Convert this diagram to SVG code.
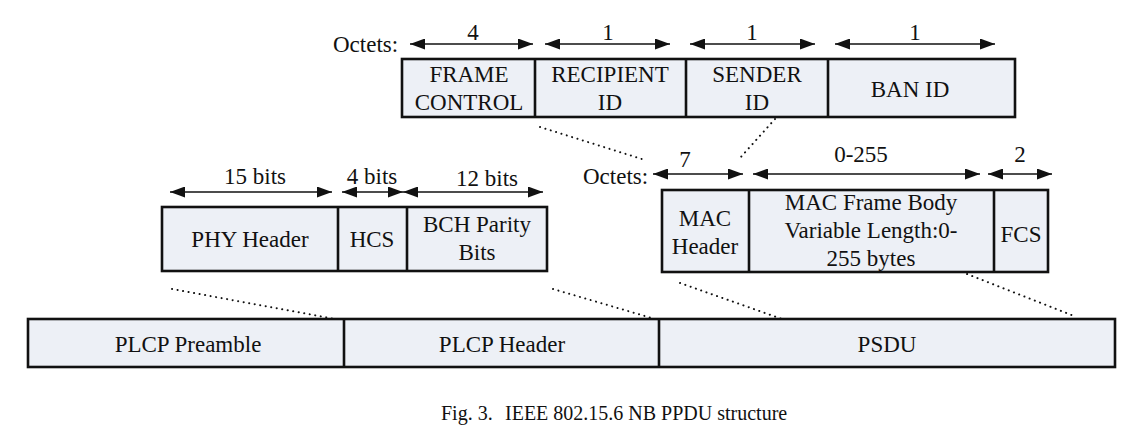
<svg xmlns="http://www.w3.org/2000/svg" width="1123" height="438" viewBox="0 0 1123 438" font-family="'Liberation Serif', 'DejaVu Serif', serif">
<style>
.box{fill:#edf0f6;stroke:#111;stroke-width:2.6}
.div{stroke:#111;stroke-width:2.6}
text{font-family:'Liberation Serif','DejaVu Serif',serif;fill:#111}
.t{font-size:23px;text-anchor:middle}
.tl{font-size:23px}
.cap{font-size:20px}
.arr{stroke:#111;stroke-width:1.6;fill:none;marker-start:url(#ah);marker-end:url(#ah)}
.dot{stroke:#111;stroke-width:2;stroke-dasharray:0.1 5.5;stroke-linecap:round;fill:none}
</style>
<defs>
<marker id="ah" markerUnits="userSpaceOnUse" markerWidth="15" markerHeight="11" refX="15" refY="5.5" orient="auto-start-reverse">
<path d="M0,0 L15,5.5 L0,11 z" fill="#111"/>
</marker>
</defs>
<rect width="1123" height="438" fill="#fff"/>

<g id="mac-header-fields">
<text class="tl" x="333" y="52">Octets:</text>
<rect class="box" x="402" y="59" width="613" height="58"/>
<line class="div" x1="535" y1="59" x2="535" y2="117"/>
<line class="div" x1="686" y1="59" x2="686" y2="117"/>
<line class="div" x1="828" y1="59" x2="828" y2="117"/>
<text class="t" x="469" y="82">FRAME</text>
<text class="t" x="469" y="110">CONTROL</text>
<text class="t" x="610" y="82">RECIPIENT</text>
<text class="t" x="610" y="110">ID</text>
<text class="t" x="757" y="82">SENDER</text>
<text class="t" x="757" y="110">ID</text>
<text class="t" x="910" y="97">BAN ID</text>
<text class="t" x="473" y="40">4</text>
<text class="t" x="608" y="40">1</text>
<text class="t" x="752" y="40">1</text>
<text class="t" x="915" y="40">1</text>
</g>

<g id="phy-header-fields">
<rect class="box" x="162" y="207" width="385" height="64"/>
<line class="div" x1="338" y1="207" x2="338" y2="271"/>
<line class="div" x1="407" y1="207" x2="407" y2="271"/>
<text class="t" x="250" y="247">PHY Header</text>
<text class="t" x="372" y="247">HCS</text>
<text class="t" x="477" y="232">BCH Parity</text>
<text class="t" x="477" y="260">Bits</text>
<text class="t" x="255" y="184">15 bits</text>
<text class="t" x="372" y="184">4 bits</text>
<text class="t" x="487" y="186">12 bits</text>
</g>

<g id="mpdu-fields">
<text class="tl" x="583" y="184">Octets:</text>
<rect class="box" x="662" y="190" width="386" height="82"/>
<line class="div" x1="749" y1="190" x2="749" y2="272"/>
<line class="div" x1="994" y1="190" x2="994" y2="272"/>
<text class="t" x="705" y="226">MAC</text>
<text class="t" x="705" y="254">Header</text>
<text class="t" x="871" y="210">MAC Frame Body</text>
<text class="t" x="871" y="238">Variable Length:0-</text>
<text class="t" x="871" y="266">255 bytes</text>
<text class="t" x="1021" y="242">FCS</text>
<text class="t" x="685" y="167">7</text>
<text class="t" x="861" y="162">0-255</text>
<text class="t" x="1020" y="162">2</text>
</g>

<g id="ppdu">
<rect class="box" x="28" y="319" width="1087" height="48"/>
<line class="div" x1="344" y1="319" x2="344" y2="367"/>
<line class="div" x1="659" y1="319" x2="659" y2="367"/>
<text class="t" x="188" y="352">PLCP Preamble</text>
<text class="t" x="502" y="352">PLCP Header</text>
<text class="t" x="887" y="352">PSDU</text>
</g>

<g id="connectors">
<line class="arr" x1="410" y1="44" x2="533" y2="44"/>
<line class="arr" x1="545" y1="44" x2="670" y2="44"/>
<line class="arr" x1="690" y1="44" x2="815" y2="44"/>
<line class="arr" x1="835" y1="44" x2="995" y2="44"/>
<line class="arr" x1="653" y1="174" x2="743" y2="174"/>
<line class="arr" x1="753" y1="174" x2="980" y2="174"/>
<line class="arr" x1="988" y1="174" x2="1052" y2="174"/>
<line class="arr" x1="170" y1="192" x2="332" y2="192"/>
<line class="arr" x1="342" y1="192" x2="403" y2="192"/>
<line class="arr" x1="403" y1="192" x2="543" y2="192"/>
<line class="dot" x1="540" y1="127" x2="645" y2="160"/>
<line class="dot" x1="775" y1="119" x2="740" y2="158"/>
<line class="dot" x1="172" y1="289" x2="335" y2="319"/>
<line class="dot" x1="553" y1="289" x2="655" y2="319"/>
<line class="dot" x1="680" y1="283" x2="782" y2="319"/>
<line class="dot" x1="967" y1="274" x2="1074" y2="316"/>
</g>

<g id="caption">
<text class="cap" x="441" y="420">Fig. 3.</text>
<text class="cap" x="505" y="420">IEEE 802.15.6 NB PPDU structure</text>
</g>
</svg>
